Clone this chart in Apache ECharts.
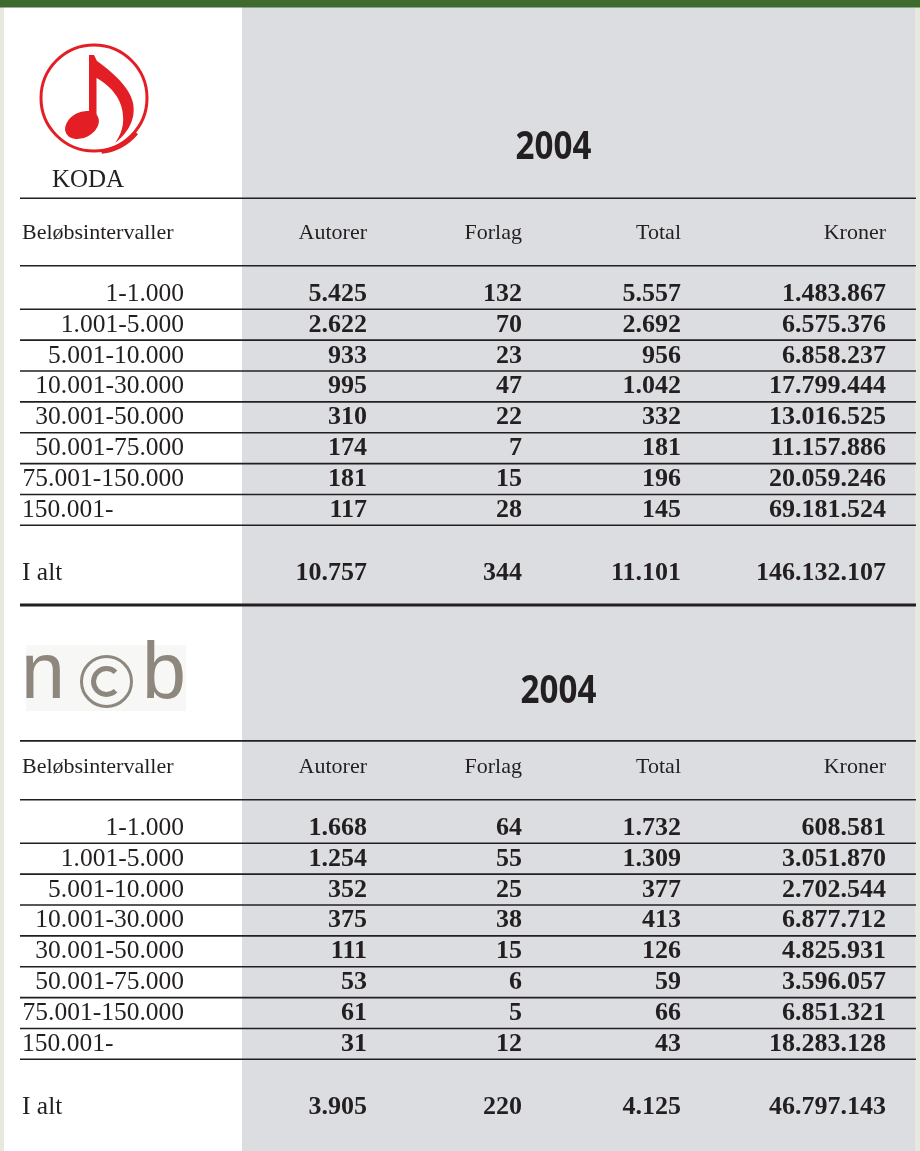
<!DOCTYPE html>
<html>
<head>
<meta charset="utf-8">
<script src="https://cdn.jsdelivr.net/npm/echarts@6/dist/echarts.min.js"></script>
<style>html,body{margin:0;padding:0;background:#fff}#chart{width:920px;height:1151px}</style>
</head>
<body>
<div id="chart"></div>
<script>
// ---- data ----
const years = ['2004', '2004'];
const columns = ['Beløbsintervaller', 'Autorer', 'Forlag', 'Total', 'Kroner'];
const intervals = ['1-1.000', '1.001-5.000', '5.001-10.000', '10.001-30.000', '30.001-50.000', '50.001-75.000', '75.001-150.000', '150.001-'];
const totalLabel = 'I alt';

const kodaAutorer = [5425, 2622, 933, 995, 310, 174, 181, 117];
const kodaForlag  = [132, 70, 23, 47, 22, 7, 15, 28];
const kodaTotal   = [5557, 2692, 956, 1042, 332, 181, 196, 145];
const kodaKroner  = [1483867, 6575376, 6858237, 17799444, 13016525, 11157886, 20059246, 69181524];
const kodaSum     = [10757, 344, 11101, 146132107];

const ncbAutorer = [1668, 1254, 352, 375, 111, 53, 61, 31];
const ncbForlag  = [64, 55, 25, 38, 15, 6, 5, 12];
const ncbTotal   = [1732, 1309, 377, 413, 126, 59, 66, 43];
const ncbKroner  = [608581, 3051870, 2702544, 6877712, 4825931, 3596057, 6851321, 18283128];
const ncbSum     = [3905, 220, 4125, 46797143];

// ---- layout ----
const W = 920, H = 1151;
const PITCH = 30.86;          // px per row unit
const ROW0 = 292;             // pixel centre of first data row of section 1
const SEC2 = (826 - ROW0) / PITCH;
const colX = [184, 367, 522, 681, 886];
const labelLeftX = 22;
const TXT = 0.07;             // small baseline correction for text rows
const ink = '#231f20';

function fmt(n) { return String(n).replace(/\B(?=(\d{3})+(?!\d))/g, '.'); }

const sections = [
  { off: 0, year: years[0], cols: [kodaAutorer, kodaForlag, kodaTotal, kodaKroner], sum: kodaSum,
    titleX: 553.5, titleRow: -4.66, topLine: -3.04, bottomThick: 10.14 },
  { off: SEC2, year: years[1], cols: [ncbAutorer, ncbForlag, ncbTotal, ncbKroner], sum: ncbSum,
    titleX: 558.5, titleRow: -4.34, topLine: -2.76, bottomThick: null }
];

const cells = [];
const rules = [];
sections.forEach(s => {
  cells.push({ x: s.titleX, y: s.off + s.titleRow, text: s.year, kind: 'title' });
  columns.forEach((c, j) => {
    cells.push({ x: j === 0 ? labelLeftX : colX[j], y: s.off - 1.97 + TXT, text: c, kind: 'head', align: j === 0 ? 'left' : 'right' });
  });
  intervals.forEach((lab, i) => {
    const leftAligned = /-$/.test(lab);
    cells.push({ x: leftAligned ? labelLeftX : colX[0], y: s.off + i + TXT, text: lab, kind: 'label', align: leftAligned ? 'left' : 'right' });
    s.cols.forEach((arr, j) => {
      cells.push({ x: colX[j + 1], y: s.off + i + TXT, text: fmt(arr[i]), kind: 'num', align: 'right' });
    });
  });
  cells.push({ x: labelLeftX, y: s.off + 9.04 + TXT, text: totalLabel, kind: 'label', align: 'left' });
  s.sum.forEach((v, j) => {
    cells.push({ x: colX[j + 1], y: s.off + 9.04 + TXT, text: fmt(v), kind: 'num', align: 'right' });
  });
  rules.push([s.off + s.topLine, 1.6]);
  rules.push([s.off - 0.85, 1.6]);
  for (let i = 0; i < intervals.length; i++) rules.push([s.off + i + 0.56, 1.6]);
  if (s.bottomThick !== null) rules.push([s.off + s.bottomThick, 3]);
});

const fonts = {
  title: { fontFamily: '"Open Sans"', fontWeight: 'bold', fontSize: 39, scaleX: 0.85 },
  head:  { fontFamily: '"Liberation Serif"', fontWeight: 'normal', fontSize: 22, scaleX: 1 },
  label: { fontFamily: '"Liberation Serif"', fontWeight: 'normal', fontSize: 25.5, scaleX: 1 },
  num:   { fontFamily: '"Liberation Serif"', fontWeight: 'bold', fontSize: 26, scaleX: 1 }
};

// sample a piecewise cubic outline into polygon points (logo decoration)
function outline(start, segs) {
  const pts = [start.slice()];
  let p0 = start;
  segs.forEach(s => {
    if (s.length === 2) { pts.push(s.slice()); p0 = s; return; }
    const [c1x, c1y, c2x, c2y, x, y] = s;
    for (let k = 1; k <= 16; k++) {
      const t = k / 16, u = 1 - t;
      pts.push([
        u*u*u*p0[0] + 3*u*u*t*c1x + 3*u*t*t*c2x + t*t*t*x,
        u*u*u*p0[1] + 3*u*u*t*c1y + 3*u*t*t*c2y + t*t*t*y
      ]);
    }
    p0 = [x, y];
  });
  return pts;
}
const notePts = outline([89, 55], [
  [89, 126], [96.5, 126], [96.5, 78],
  [111, 86, 122, 99, 123, 116],
  [124, 127, 120, 136, 115, 143],
  [129, 132, 136, 118, 133, 103],
  [129, 86, 112, 72, 97, 61],
  [94, 55]
]);

const chart = echarts.init(document.getElementById('chart'), null, { renderer: 'canvas' });

const red = '#e31e25';
const grayLogo = '#8e877d';

chart.setOption({
  backgroundColor: '#ffffff',
  animation: false,
  grid: { left: 0, right: 0, top: 0, bottom: 0 },
  xAxis: { type: 'value', min: 0, max: W, show: false },
  yAxis: { type: 'value', inverse: true, min: -ROW0 / PITCH, max: (H - ROW0) / PITCH, show: false },
  graphic: [
    { type: 'rect', z: -10, shape: { x: 0, y: 0, width: 4, height: H }, style: { fill: '#e7e9de' } },
    { type: 'rect', z: -10, shape: { x: 915, y: 0, width: 5, height: H }, style: { fill: '#e7e9de' } },
    { type: 'rect', z: -10, shape: { x: 242, y: 7, width: 673, height: H - 7 }, style: { fill: '#dcdde0' } },
    { type: 'rect', z: -10, shape: { x: 0, y: 0, width: W, height: 7.5 }, style: { fill: '#3e6a2d' } },
    // KODA logo
    { type: 'circle', z: -5, shape: { cx: 94, cy: 98, r: 53 }, style: { fill: 'none', stroke: red, lineWidth: 3 } },
    { type: 'arc', z: -5, shape: { cx: 95, cy: 98, r: 54, startAngle: 0.7, endAngle: 1.45 }, style: { fill: 'none', stroke: red, lineWidth: 4.5 } },
    { type: 'polygon', z: -5, shape: { points: notePts }, style: { fill: red } },
    { type: 'circle', z: -5, x: 82, y: 125, scaleX: 1.38, scaleY: 0.98, rotation: 0.5, shape: { cx: 0, cy: 0, r: 13 }, style: { fill: red } },
    { type: 'text', z: -5, x: 88, y: 180, style: { text: 'KODA', fill: ink, fontFamily: '"Liberation Serif"', fontSize: 25, align: 'center', verticalAlign: 'middle', textAlign: 'center', textVerticalAlign: 'middle' } },
    // NCB logo
    { type: 'rect', z: -6, shape: { x: 26, y: 645, width: 160, height: 66 }, style: { fill: '#f7f7f5' } },
    { type: 'text', z: -5, x: 21, y: 676, style: { text: 'n', fill: grayLogo, fontFamily: '"Liberation Sans"', fontSize: 79, align: 'left', verticalAlign: 'middle', textAlign: 'left', textVerticalAlign: 'middle' } },
    { type: 'text', z: -5, x: 142, y: 676, style: { text: 'b', fill: grayLogo, fontFamily: '"Liberation Sans"', fontSize: 79, align: 'left', verticalAlign: 'middle', textAlign: 'left', textVerticalAlign: 'middle' } },
    { type: 'circle', z: -5, shape: { cx: 106.5, cy: 681.5, r: 25 }, style: { fill: 'none', stroke: grayLogo, lineWidth: 3 } },
    { type: 'arc', z: -5, shape: { cx: 106.5, cy: 681.5, r: 13, startAngle: 0.8, endAngle: Math.PI * 2 - 0.8, clockwise: true }, style: { fill: 'none', stroke: grayLogo, lineWidth: 5 } }
  ],
  series: [
    {
      type: 'custom',
      name: 'rules',
      coordinateSystem: 'cartesian2d',
      silent: true,
      z: 3,
      data: rules.map(r => [0, r[0], r[1]]),
      renderItem: function (params, api) {
        const y = api.value(1);
        const a = api.coord([20, y]);
        const b = api.coord([916, y]);
        return { type: 'line', shape: { x1: a[0], y1: a[1], x2: b[0], y2: b[1] }, style: { stroke: ink, lineWidth: api.value(2) } };
      }
    },
    {
      type: 'custom',
      name: 'cells',
      coordinateSystem: 'cartesian2d',
      silent: true,
      z: 4,
      data: cells.map(c => [c.x, c.y]),
      renderItem: function (params, api) {
        const c = cells[params.dataIndex];
        const p = api.coord([api.value(0), api.value(1)]);
        const f = fonts[c.kind];
        return {
          type: 'text',
          x: p[0], y: p[1],
          scaleX: f.scaleX,
          style: {
            text: c.text, fill: ink,
            fontFamily: f.fontFamily, fontWeight: f.fontWeight, fontSize: f.fontSize,
            align: c.align || 'center', verticalAlign: 'middle'
          }
        };
      }
    }
  ]
});
</script>
</body>
</html>
